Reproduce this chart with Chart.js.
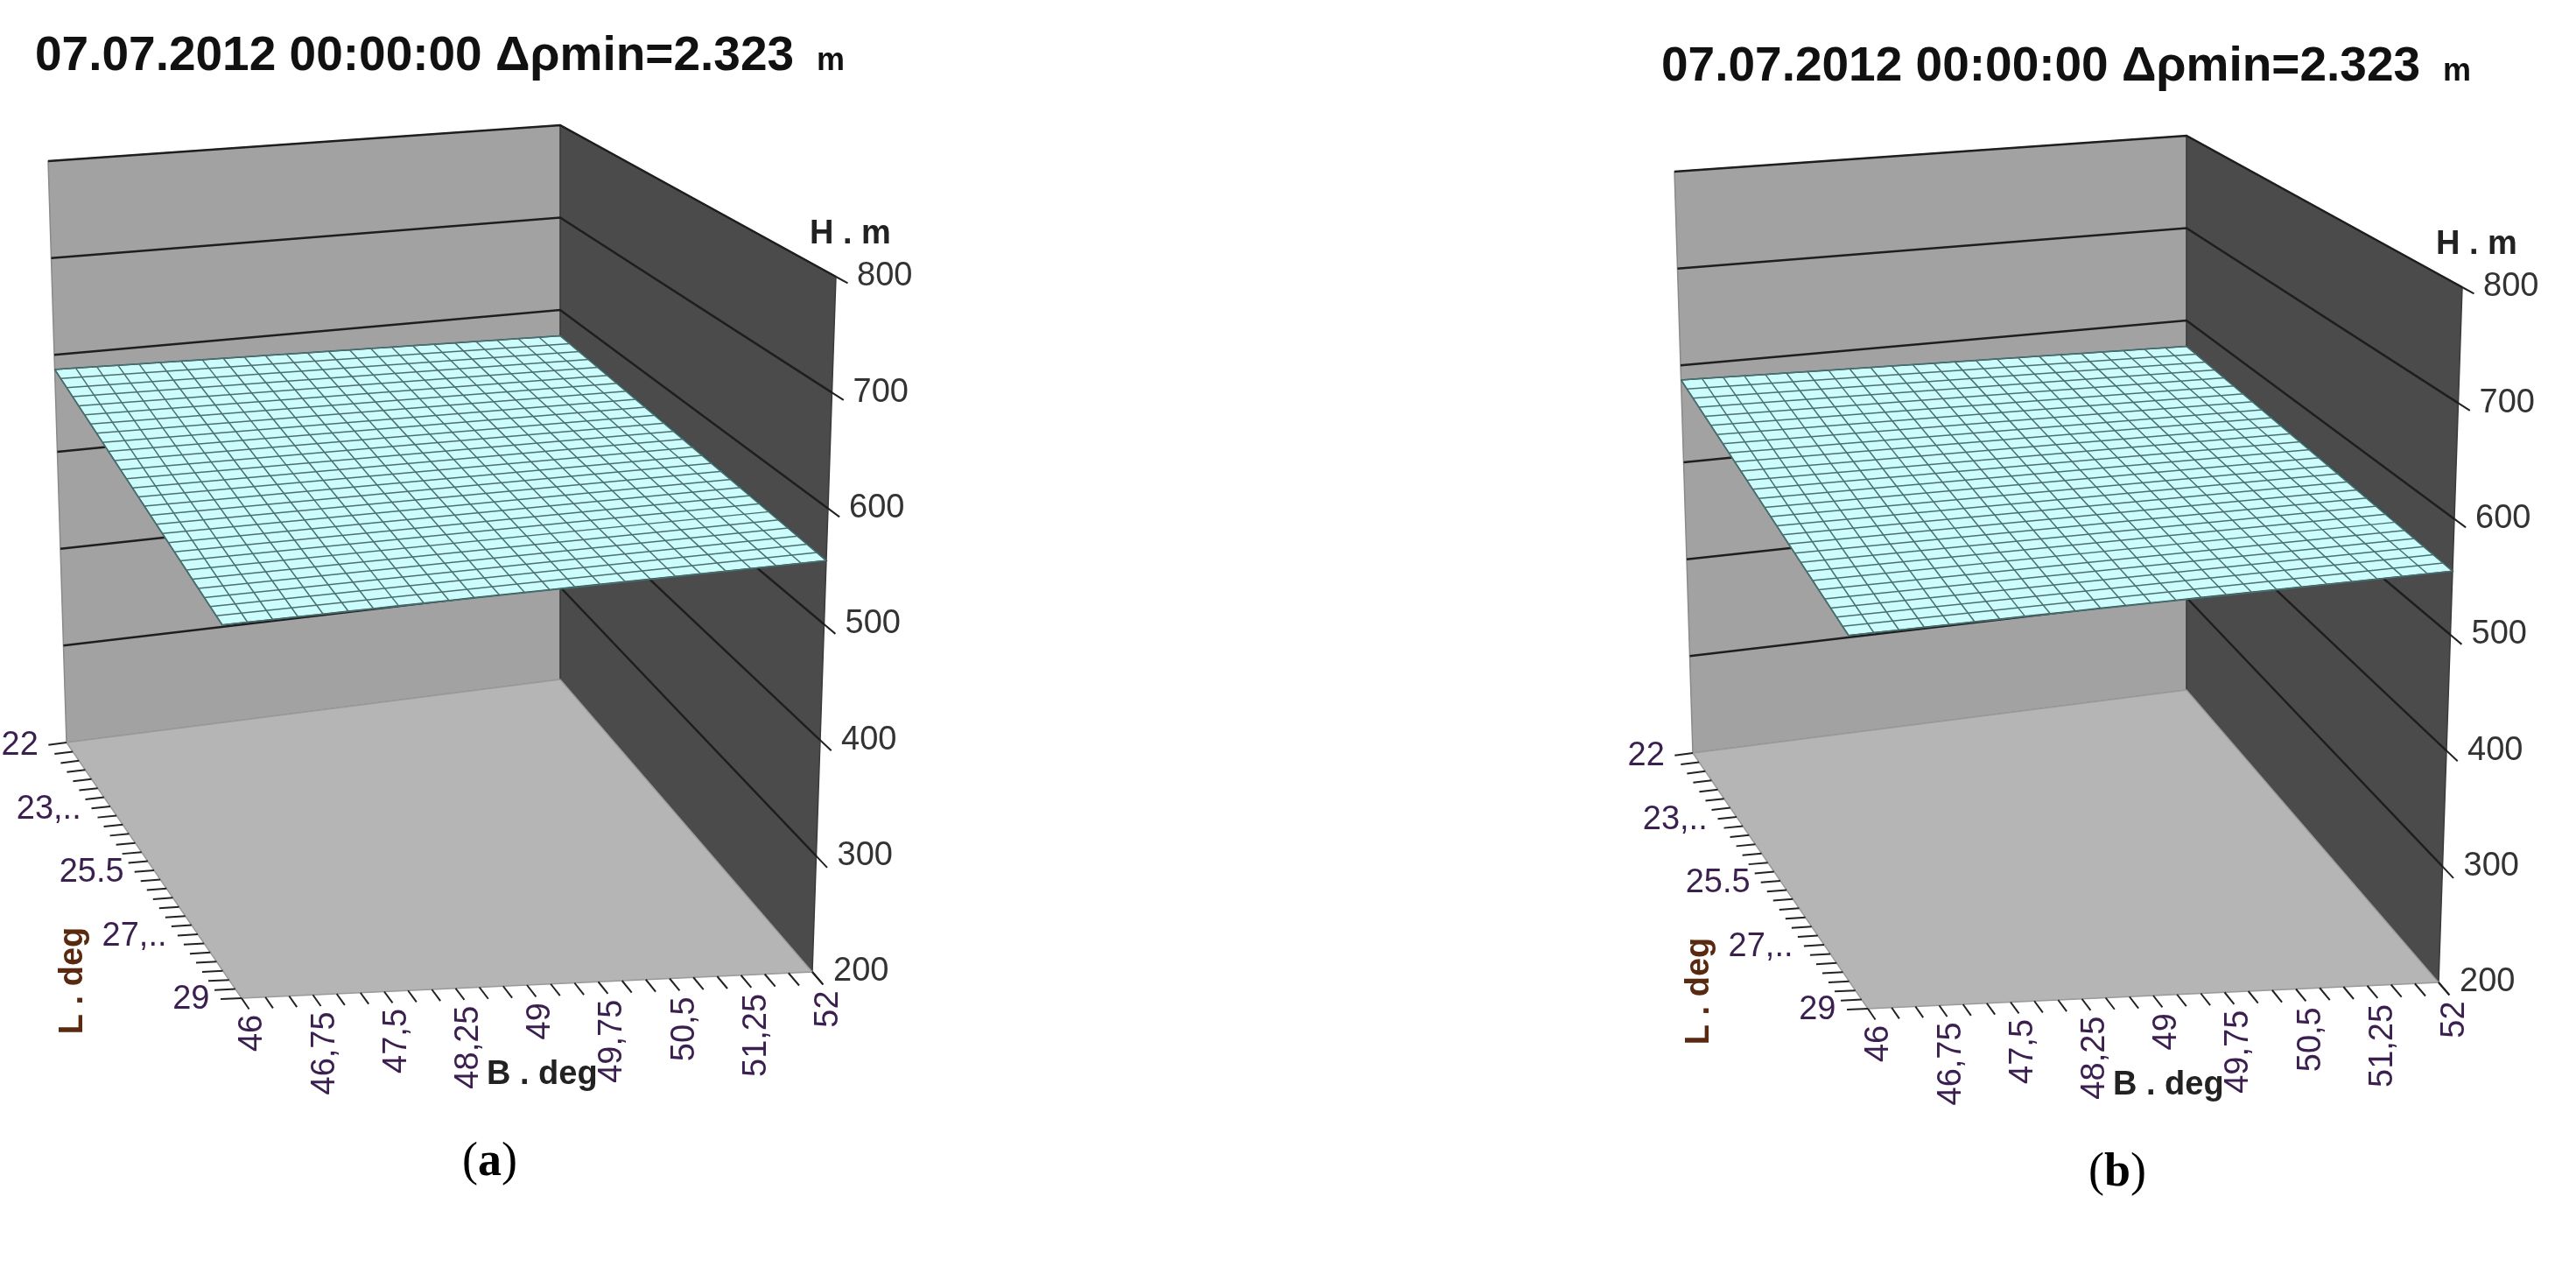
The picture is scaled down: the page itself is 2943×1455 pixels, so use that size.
<!DOCTYPE html>
<html>
<head>
<meta charset="utf-8">
<script src="https://cdn.jsdelivr.net/npm/chart.js@4.4.1/dist/chart.umd.min.js"></script>
<style>
  html, body { margin: 0; padding: 0; background: #fff; }
  body { width: 2943px; height: 1455px; position: relative; overflow: hidden; }
  .panel { position: absolute; width: 1100px; height: 1455px; }
</style>
</head>
<body>
<div class="panel" style="left:0;top:0"><canvas id="chartA"></canvas></div>
<div class="panel" style="left:1858px;top:12px"><canvas id="chartB"></canvas></div>
<script>
const titleText = "07.07.2012 00:00:00 \u0394\u03c1min=2.323";
const panelLabels = ["a", "b"];

// axis ticks
const bTicks = [46, 46.75, 47.5, 48.25, 49, 49.75, 50.5, 51.25, 52];
const bTickLabels = ["46", "46,75", "47,5", "48,25", "49", "49,75", "50,5", "51,25", "52"];
const lTicks = [22, 23.75, 25.5, 27.25, 29];
const lTickLabels = ["22", "23,..", "25.5", "27,..", "29"];
const hTicks = [200, 300, 400, 500, 600, 700, 800];

// surface mesh grid
const bGrid = [46, 46.25, 46.5, 46.75, 47, 47.25, 47.5, 47.75, 48, 48.25, 48.5, 48.75, 49,
  49.25, 49.5, 49.75, 50, 50.25, 50.5, 50.75, 51, 51.25, 51.5, 51.75, 52];
const lGrid = [22, 22.25, 22.5, 22.75, 23, 23.25, 23.5, 23.75, 24, 24.25, 24.5, 24.75, 25,
  25.25, 25.5, 25.75, 26, 26.25, 26.5, 26.75, 27, 27.25, 27.5, 27.75, 28, 28.25, 28.5, 28.75, 29];
// H (m) along the surface edges
const hAtL22 = [585, 584.5, 583.9, 583.4, 582.8, 582.3, 581.7, 581.2, 580.7, 580.1, 579.6, 579, 578.5,
  577.9, 577.4, 576.9, 576.3, 575.8, 575.2, 574.7, 574.2, 573.6, 573.1, 572.5, 572];
const hAtL29 = [568, 567.5, 566.9, 566.4, 565.8, 565.3, 564.7, 564.2, 563.7, 563.1, 562.6, 562, 561.5,
  560.9, 560.4, 559.9, 559.3, 558.8, 558.2, 557.7, 557.2, 556.6, 556.1, 555.5, 555];
const hAtB46 = [585, 584.4, 583.8, 583.2, 582.6, 582, 581.4, 580.8, 580.1, 579.5, 578.9, 578.3, 577.7,
  577.1, 576.5, 575.9, 575.3, 574.7, 574.1, 573.5, 572.9, 572.3, 571.7, 571, 570.4, 569.8, 569.2, 568.6, 568];
const hAtB52 = [572, 571.4, 570.8, 570.2, 569.6, 569, 568.4, 567.8, 567.1, 566.5, 565.9, 565.3, 564.7,
  564.1, 563.5, 562.9, 562.3, 561.7, 561.1, 560.5, 559.9, 559.3, 558.7, 558, 557.4, 556.8, 556.2, 555.6, 555];

// view box: projected corners (bottom then top), order: (Bmin,Lmin) (Bmax,Lmin) (Bmax,Lmax) (Bmin,Lmax)
const BOT = [[76, 848], [640, 776], [928, 1110], [276, 1140]];
const TOP = [[55, 184], [640, 143], [955, 316], [240, 445]];
const B0 = 46, B1 = 52, L0 = 22, L1 = 29, H0 = 200, H1 = 800;

function proj(b, l, h) {
  const u = (b - B0) / (B1 - B0), v = (l - L0) / (L1 - L0), w = (h - H0) / (H1 - H0);
  const mix = (c) => {
    const x = c[0][0] * (1 - u) * (1 - v) + c[1][0] * u * (1 - v) + c[2][0] * u * v + c[3][0] * (1 - u) * v;
    const y = c[0][1] * (1 - u) * (1 - v) + c[1][1] * u * (1 - v) + c[2][1] * u * v + c[3][1] * (1 - u) * v;
    return [x, y];
  };
  const p = mix(BOT), q = mix(TOP);
  return { x: p[0] + (q[0] - p[0]) * w, y: p[1] + (q[1] - p[1]) * w };
}

function poly(pts, fill, stroke, width) {
  return {
    data: pts.concat([pts[0]]), showLine: true, fill: fill ? 'shape' : false,
    backgroundColor: fill || 'transparent', borderColor: stroke || 'transparent',
    borderWidth: width || 0, pointRadius: 0, tension: 0
  };
}
function line(pts, color, width) {
  return { data: pts, showLine: true, fill: false, borderColor: color, borderWidth: width,
    pointRadius: 0, tension: 0 };
}

function buildDatasets() {
  const ds = [];
  // left wall (L = 22), right wall (B = 52), floor
  ds.push(poly([proj(B0, L0, H0), proj(B1, L0, H0), proj(B1, L0, H1), proj(B0, L0, H1)], '#a2a2a2', '#8a8a8a', 1.5));
  ds.push(poly([proj(B1, L0, H0), proj(B1, L1, H0), proj(B1, L1, H1), proj(B1, L0, H1)], '#4b4b4b', '#3a3a3a', 1.5));
  ds.push(poly([proj(B0, L0, H0), proj(B1, L0, H0), proj(B1, L1, H0), proj(B0, L1, H0)], '#b5b5b5', '#9a9a9a', 1.5));
  // wall gridlines
  hTicks.slice(1).forEach(h => {
    ds.push(line([proj(B0, L0, h), proj(B1, L0, h), proj(B1, L1, h)], '#1e1e1e', 2.5));
  });
  // surface fill
  const outline = [];
  bGrid.forEach((b, i) => outline.push(proj(b, L0, hAtL22[i])));
  lGrid.forEach((l, i) => outline.push(proj(B1, l, hAtB52[i])));
  bGrid.slice().reverse().forEach((b, i) => outline.push(proj(b, L1, hAtL29[bGrid.length - 1 - i])));
  lGrid.slice().reverse().forEach((l, i) => outline.push(proj(B0, l, hAtB46[lGrid.length - 1 - i])));
  ds.push(poly(outline, '#cdfcfc', '#2f4f4f', 1.5));
  // mesh
  bGrid.forEach((b, i) => ds.push(line([proj(b, L0, hAtL22[i]), proj(b, L1, hAtL29[i])], '#4a6f6f', 1.5)));
  lGrid.forEach((l, i) => ds.push(line([proj(B0, l, hAtB46[i]), proj(B1, l, hAtB52[i])], '#4a6f6f', 1.5)));
  // axis ticks
  lGrid.forEach(l => ds.push(line([proj(B0, l, H0), proj(B0 - 0.22, l, H0)], '#222', 2)));
  bGrid.forEach(b => ds.push(line([proj(b, L1, H0), proj(b, L1 + 0.3, H0)], '#222', 2)));
  hTicks.forEach(h => ds.push(line([proj(B1, L1, h), proj(B1, L1 + 0.3, h)], '#222', 2)));
  // Chart.js paints the first dataset on top, so reverse to paint back-to-front
  return ds.reverse();
}

const textPlugin = {
  id: 'textPlugin',
  afterDraw(chart) {
    const ctx = chart.ctx, xs = chart.scales.x, ys = chart.scales.y;
    const px = (p) => [xs.getPixelForValue(p.x), ys.getPixelForValue(p.y)];
    ctx.save();
    ctx.fillStyle = '#111';
    ctx.font = 'bold 55px "Liberation Sans", Arial, sans-serif';
    ctx.textBaseline = 'alphabetic';
    ctx.textAlign = 'left';
    ctx.fillText(titleText, 40, 80);
    const tw = ctx.measureText(titleText).width;
    ctx.font = 'bold 36px "Liberation Sans", Arial, sans-serif';
    ctx.fillText('m', 40 + tw + 26, 80);

    ctx.font = '38px "Liberation Sans", Arial, sans-serif';
    ctx.fillStyle = '#333';
    ctx.textBaseline = 'middle';
    hTicks.forEach(h => {
      const [x, y] = px(proj(B1, L1, h));
      ctx.fillText(String(h), x + 24, y);
    });
    ctx.fillStyle = '#3a1f4f';
    ctx.textAlign = 'right';
    lTicks.forEach((l, i) => {
      const [x, y] = px(proj(B0 - 0.3, l, H0));
      ctx.fillText(lTickLabels[i], x - 4, y);
    });
    bTicks.forEach((b, i) => {
      const [x, y] = px(proj(b, L1 + 0.45, H0));
      ctx.save();
      ctx.translate(x, y);
      ctx.rotate(-Math.PI / 2);
      ctx.textAlign = 'right';
      ctx.fillText(bTickLabels[i], 0, 0);
      ctx.restore();
    });
    ctx.font = 'bold 38px "Liberation Sans", Arial, sans-serif';
    ctx.fillStyle = '#222';
    ctx.textAlign = 'left';
    const hp = px(proj(B1, L1, H1));
    ctx.fillText('H . m', hp[0] - 30, hp[1] - 48);
    ctx.fillText('B . deg', 556, 1228);
    ctx.save();
    ctx.translate(84, 1120);
    ctx.rotate(-Math.PI / 2);
    ctx.fillStyle = '#5a2a10';
    ctx.textAlign = 'center';
    ctx.fillText('L . deg', 0, 0);
    ctx.restore();

    // panel caption
    const tag = chart.options.plugins.textPlugin.tag;
    ctx.fillStyle = '#000';
    ctx.textAlign = 'left';
    ctx.textBaseline = 'alphabetic';
    ctx.font = '54px "Liberation Serif", serif';
    const cx = 528, cy = 1342;
    ctx.fillText('(', cx, cy);
    let w = ctx.measureText('(').width;
    ctx.font = 'bold 54px "Liberation Serif", serif';
    ctx.fillText(tag, cx + w, cy);
    w += ctx.measureText(tag).width;
    ctx.font = '54px "Liberation Serif", serif';
    ctx.fillText(')', cx + w, cy);
    ctx.restore();
  }
};

function makeChart(id, tag) {
  new Chart(document.getElementById(id).getContext('2d'), {
    type: 'scatter',
    data: { datasets: buildDatasets() },
    options: {
      responsive: true, maintainAspectRatio: false, animation: false,
      layout: { padding: 0 },
      scales: {
        x: { type: 'linear', min: 0, max: 1100, display: false },
        y: { type: 'linear', min: 0, max: 1455, reverse: true, display: false }
      },
      plugins: { legend: { display: false }, tooltip: { enabled: false }, textPlugin: { tag: tag } }
    },
    plugins: [textPlugin]
  });
}
makeChart('chartA', panelLabels[0]);
makeChart('chartB', panelLabels[1]);
</script>
</body>
</html>
